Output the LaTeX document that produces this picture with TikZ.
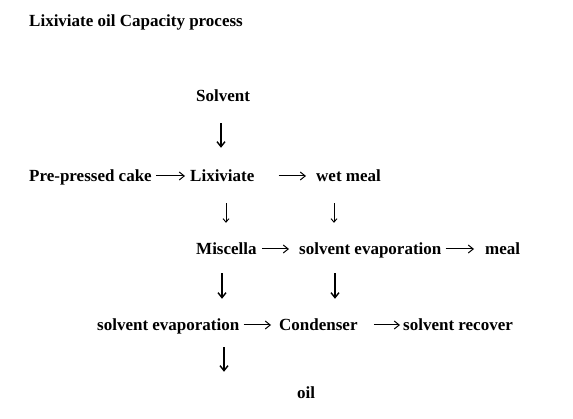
\documentclass[tikz,border=0pt]{standalone}
\usepackage{fontspec}
\setmainfont{Liberation Serif}
\usetikzlibrary{arrows.meta}

\begin{document}
\begin{tikzpicture}[x=1pt, y=-1pt, >={Straight Barb[length=5pt, width=8pt]},
  default/.style={inner sep=0pt, anchor=base west, text height=13pt, text depth=1pt,
    font=\bfseries\fontsize{17}{20}\selectfont},
  harrow/.style={->, line width=1pt},
  varrow/.style={->, line width=1.4pt},
  sarrow/.style={->, line width=0.9pt, >={Straight Barb[length=3.5pt, width=6pt]}}]
\useasboundingbox (0,0) rectangle (573,419);
\node[default] (Title) at (29, 27) {Lixiviate oil Capacity process};
\node[default] (Solvent) at (196, 102) {Solvent};
\node[default] (Cake) at (29, 182) {Pre-pressed cake};
\node[default] (Lix) at (190, 182) {Lixiviate};
\node[default] (Wet) at (316, 182) {wet meal};
\node[default] (Misc) at (196, 255) {Miscella};
\node[default] (EvapA) at (299, 255) {solvent evaporation};
\node[default] (Meal) at (485, 255) {meal};
\node[default] (EvapB) at (97, 331) {solvent evaporation};
\node[default] (Cond) at (279, 331) {Condenser};
\node[default] (Recover) at (403, 331) {solvent recover};
\node[default] (Oil) at (297, 399) {oil};
\coordinate (X1) at (221, 0);
\coordinate (X2) at (226, 0);
\coordinate (X3) at (334, 0);
\coordinate (X4) at (222, 0);
\coordinate (X5) at (335, 0);
\coordinate (X6) at (224, 0);
\draw [harrow, shorten <=4pt, shorten >=5pt] (Cake.east) -- (Lix.west);
\draw [harrow, shorten <=24pt, shorten >=10pt] (Lix.east) -- (Wet.west);
\draw [harrow, shorten <=5pt, shorten >=10pt] (Misc.east) -- (EvapA.west);
\draw [harrow, shorten <=4pt, shorten >=11pt] (EvapA.east) -- (Meal.west);
\draw [harrow, shorten <=4pt, shorten >=8pt] (EvapB.east) -- (Cond.west);
\draw [harrow, shorten <=16pt, shorten >=3pt] (Cond.east) -- (Recover.west);
\draw [varrow, shorten <=20pt, shorten >=21pt] (Solvent.south -| X1) -- (Lix.north -| X1);
\draw [sarrow, shorten <=20pt, shorten >=19pt] (Lix.south -| X2) -- (Misc.north -| X2);
\draw [sarrow, shorten <=20pt, shorten >=19pt] (Wet.south -| X3) -- (EvapA.north -| X3);
\draw [varrow, shorten <=17pt, shorten >=19pt] (Misc.south -| X4) -- (EvapB.north -| X4);
\draw [varrow, shorten <=17pt, shorten >=19pt] (EvapA.south -| X5) -- (Cond.north -| X5);
\draw [varrow, shorten <=15pt, shorten >=14pt] (EvapB.south -| X6) -- (Oil.north -| X6);
\end{tikzpicture}
\end{document}
